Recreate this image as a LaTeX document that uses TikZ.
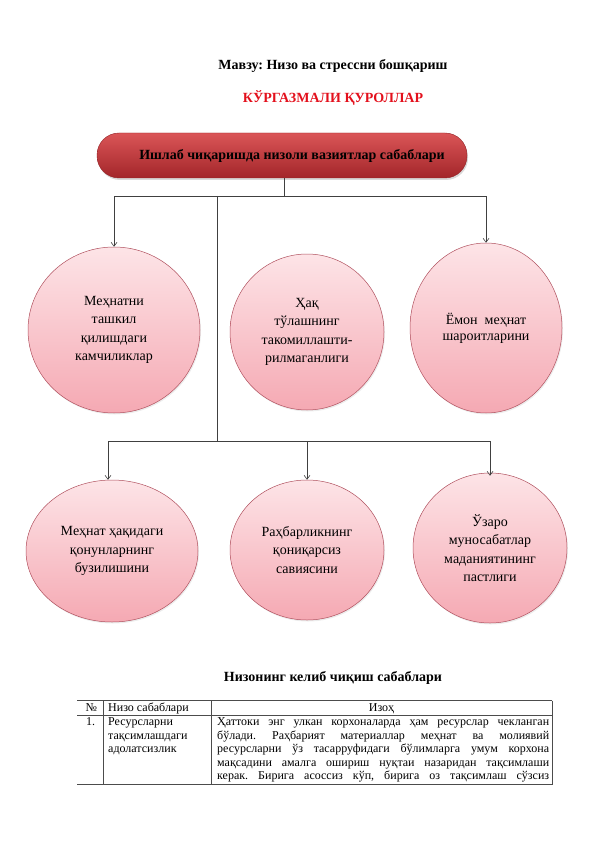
\documentclass[tikz,border=0pt]{standalone}
\usepackage{fontspec}
\setmainfont{Liberation Serif}
\usetikzlibrary{arrows.meta,shapes.geometric,shadows}
\definecolor{titlered}{HTML}{E3101C}
\definecolor{pilltop}{HTML}{DA5557}
\definecolor{pillbot}{HTML}{A3262A}
\definecolor{circtop}{HTML}{FDE4E7}
\definecolor{circbot}{HTML}{F5A9B3}
\definecolor{circborder}{HTML}{B0505E}
\definecolor{lineclr}{HTML}{404040}
\frenchspacing
\begin{document}
\begin{tikzpicture}[x=1pt,y=-1pt,
  conn/.style={draw=lineclr, line width=0.6pt},
  arr/.style={conn, -{Straight Barb[length=4pt,width=6pt]}},
  bubble/.style={ellipse, draw=circborder, line width=0.5pt,
    top color=circtop, bottom color=circbot, inner sep=0pt, align=center,
    font=\fontsize{14}{18.5}\selectfont,
    drop shadow={opacity=0.15, shadow xshift=1pt, shadow yshift=-1.5pt}},
  pill/.style={rectangle, rounded corners=22pt, top color=pilltop, bottom color=pillbot,
    draw=pillbot!90!black, line width=0.4pt, minimum width=370pt, minimum height=45pt,
    font=\fontsize{14}{16}\bfseries\selectfont, inner sep=0pt,
    drop shadow={opacity=0.3, shadow xshift=1pt, shadow yshift=-2pt}},
  tline/.style={draw=black!70, line width=0.6pt},
  ttext/.style={font=\fontsize{12}{13.5}\selectfont, inner sep=0pt},
  heading/.style={font=\fontsize{14}{16}\bfseries\selectfont, inner sep=0pt}
]
\useasboundingbox (0,0) rectangle (596,842);

% headings
\node[heading, anchor=base] (title) at (333,69.5) {Мавзу: Низо ва стрессни бошқариш};
\node[heading, anchor=base, text=titlered] (subtitle) at (333,103) {КЎРГАЗМАЛИ ҚУРОЛЛАР};

% top pill
\node[pill] (pill) at (282,155.5) {\hspace*{20pt}Ишлаб чиқаришда низоли вазиятлар сабаблари};

% first row
\node[bubble, minimum width=172pt, minimum height=166pt] (c1) at (114,330)
  {Меҳнатни\\ташкил\\қилишдаги\\камчиликлар};
\node[bubble, minimum width=154pt, minimum height=156pt] (c2) at (307,332)
  {Ҳақ\\тўлашнинг\\такомиллашти-\\рилмаганлиги};
\node[bubble, minimum width=152pt, minimum height=170pt, font=\fontsize{14}{16}\selectfont] (c3) at (486,328)
  {Ёмон\ \ меҳнат\\шароитларини};

% second row
\node[bubble, minimum width=172pt, minimum height=142pt] (d1) at (112,551)
  {Меҳнат ҳақидаги\\қонунларнинг\\бузилишини};
\node[bubble, minimum width=154pt, minimum height=140pt] (d2) at (307,550)
  {Раҳбарликнинг\\қониқарсиз\\савиясини};
\node[bubble, minimum width=154pt, minimum height=150pt] (d3) at (490,548)
  {Ўзаро\\муносабатлар\\маданиятининг\\пастлиги};

% connectors
\coordinate (j1) at (284,196);
\coordinate (j2) at (217,196);
\coordinate (j3) at (217,441);
\draw[conn] (pill.south -| j1) -- (j1);
\draw[arr] (j1) -| (c1.north);
\draw[arr] (j1) -| (c3.north);
\draw[conn] (j2) -- (j3);
\draw[arr] (j3) -| ([xshift=-4pt]d1.north);
\draw[arr] (j3) -| (d2.north);
\draw[arr] (j3) -| ([yshift=-3pt]d3.north);

% table heading
\node[heading, anchor=base] (ttitle) at (333,681.5) {Низонинг келиб чиқиш сабаблари};

% table
\draw[tline] (77,700.5) -- (552,700.5);
\draw[tline] (77,715) -- (552,715);
\draw[tline] (77,784.5) -- (552,784.5);
\draw[tline] (103,700.5) -- (103,784.5);
\draw[tline] (211,700.5) -- (211,784.5);
\draw[tline] (552,700.5) -- (552,784.5);

\node[ttext, anchor=base west] (h1) at (85.5,711.5) {№};
\node[ttext, anchor=base west] (h2) at (108,711.5) {Низо сабаблари};
\node[ttext, anchor=base] (h3) at (381.5,711.5) {Изоҳ};

\node[ttext, anchor=base west] (n1) at (86,725.5) {1.};
\node[ttext, anchor=base west] (r1a) at (108,725.5) {Ресурсларни};
\node[ttext, anchor=base west] (r1b) at (108,739) {тақсимлашдаги};
\node[ttext, anchor=base west] (r1c) at (108,752.5) {адолатсизлик};

\node[ttext, anchor=base west] (e1) at (217,725.5) {\makebox[332pt][s]{Ҳаттоки энг улкан корхоналарда ҳам ресурслар чекланган}};
\node[ttext, anchor=base west] (e2) at (217,739) {\makebox[332pt][s]{бўлади. Раҳбарият материаллар меҳнат ва молиявий}};
\node[ttext, anchor=base west] (e3) at (217,752.5) {\makebox[332pt][s]{ресурсларни ўз тасарруфидаги бўлимларга умум корхона}};
\node[ttext, anchor=base west] (e4) at (217,766) {\makebox[332pt][s]{мақсадини амалга ошириш нуқтаи назаридан тақсимлаши}};
\node[ttext, anchor=base west] (e5) at (217,779.5) {\makebox[332pt][s]{керак. Бирига асоссиз кўп, бирига оз тақсимлаш сўзсиз}};
\end{tikzpicture}
\end{document}
